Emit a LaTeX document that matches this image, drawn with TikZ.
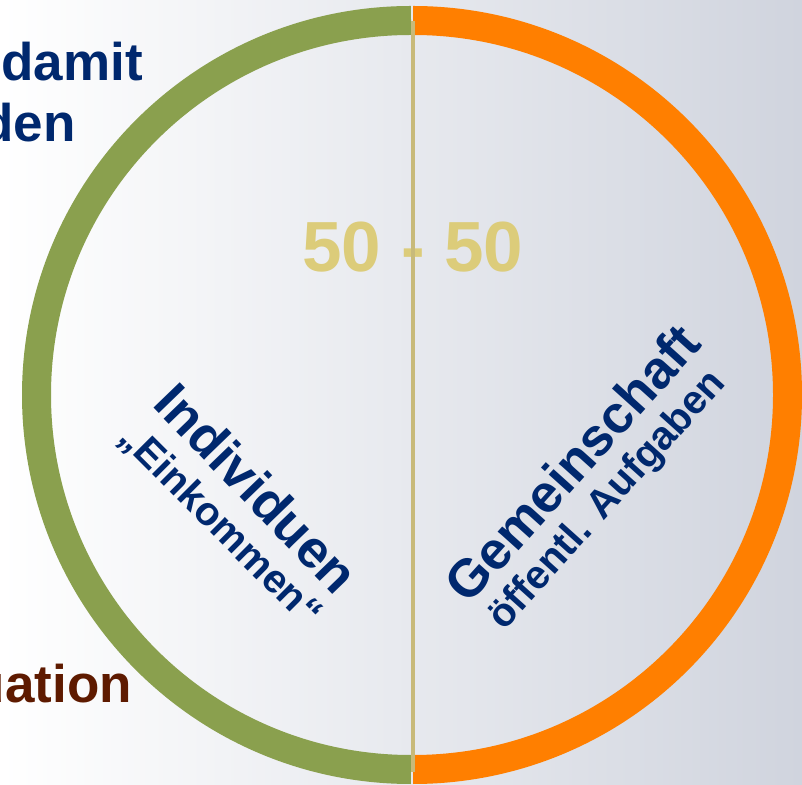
\documentclass[tikz,border=0pt]{standalone}
\usepackage{fontspec}
\setmainfont{Liberation Sans}
\definecolor{cGreen}{RGB}{138,160,78}
\definecolor{cOrange}{RGB}{255,127,0}
\definecolor{cTan}{RGB}{200,186,122}
\definecolor{cGold}{RGB}{220,204,122}
\definecolor{cNavy}{RGB}{0,40,110}
\definecolor{cBrown}{RGB}{94,26,0}
\definecolor{cBack}{RGB}{208,212,222}
\tikzset{
	ringarc/.style ={line width=29pt},
	split/.style   ={line width=3.5pt, draw=cTan},
	ratio/.style   ={font=\bfseries\fontsize{71}{71}\selectfont, text=cGold, inner sep=0pt},
	maintxt/.style ={font=\bfseries\fontsize{53}{53}\selectfont, text=cNavy, inner sep=0pt},
	subtxt/.style  ={font=\bfseries\fontsize{40}{40}\selectfont, text=cNavy, inner sep=0pt},
	sidetxt/.style ={font=\bfseries\fontsize{53}{53}\selectfont, inner sep=0pt, anchor=base east},
}

\begin{document}
\begin{tikzpicture}[x=1pt, y=1pt]
	\useasboundingbox (0,0) rectangle (802,784);
	% backdrop
	\fill[left color=white, right color=cBack] (0,0) rectangle (802,784);
	\coordinate (c) at (412,389);
	% two halves of the ring
	\draw[ringarc, cGreen]  ([xshift=-1pt]c) ++(90:374.5) arc[start angle=90, end angle=270, radius=374.5];
	\draw[ringarc, cOrange] ([xshift=1pt]c) ++(-90:374.5) arc[start angle=-90, end angle=90, radius=374.5];
	% cut-off side texts
	\node[sidetxt, text=cNavy] (damit) at (143,703) {damit};
	\node[sidetxt, text=cNavy] (den) at (76,642) {den};
	\node[sidetxt, text=cBrown] (uation) at (132,82) {uation};
	\node[ratio, anchor=base] (ratio) at (413,512) {50 - 50};
	\node[maintxt, rotate=-46] (indiv) at (257,296) {Individuen};
	\node[subtxt, rotate=-45] (eink) at (220,258) {„Einkommen“};
	\node[maintxt, rotate=48] (gemein) at (572,321) {Gemeinschaft};
	\node[subtxt, rotate=48] (aufg) at (608,283) {öffentl. Aufgaben};
	% divider
	\coordinate (top) at (413,763);
	\coordinate (bot) at (413,12);
	\draw[split] (top) -- (bot);
\end{tikzpicture}
\end{document}
